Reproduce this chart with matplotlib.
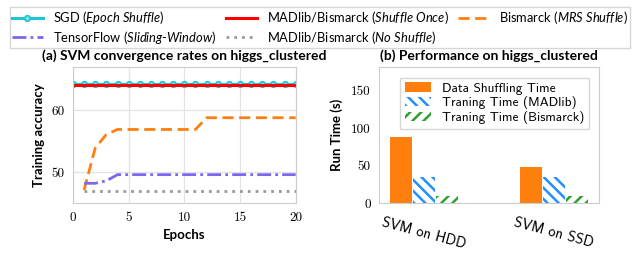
import matplotlib
matplotlib.use("Agg")
import matplotlib.pyplot as plt
import numpy as np

plt.rcParams['mathtext.fontset'] = 'custom'
plt.rcParams['mathtext.rm'] = 'Lato'
plt.rcParams['mathtext.it'] = 'Lato:italic'
plt.rcParams['font.family'] = 'Lato'
plt.rcParams['hatch.linewidth'] = 1.8

# ---- data: convergence (left panel)
epochs_full = list(range(0, 21))
epochs = list(range(1, 21))
sgd_epoch_shuffle = [64.3] * 21
madlib_shuffle_once = [64.1] * 21
bismarck_mrs = [47.1, 53.9, 56.1, 56.9, 56.9, 56.9, 56.9, 56.9, 56.9, 56.9,
                56.9, 58.8, 58.8, 58.8, 58.8, 58.8, 58.8, 58.8, 58.8, 58.8]
tensorflow_sw = [48.2, 48.2, 48.6, 49.6, 49.6, 49.6, 49.6, 49.6, 49.6, 49.6,
                 49.6, 49.6, 49.6, 49.6, 49.6, 49.6, 49.6, 49.6, 49.6, 49.6]
madlib_no_shuffle = [47.0] * 20

# ---- data: run time (right panel)
groups = ['SVM on HDD', 'SVM on SSD']
shuffle_time = [88, 48]
train_madlib = [35, 35]
train_bismarck = [10, 10]

fig = plt.figure(figsize=(6.4, 2.69), dpi=100)
ax1 = fig.add_axes([0.114, 0.245, 0.348, 0.506])
ax2 = fig.add_axes([0.592, 0.245, 0.344, 0.506])

grey = '#cccccc'

h_sgd, = ax1.plot(epochs_full, sgd_epoch_shuffle, color='#1fc3d6', lw=2.2,
                  marker='o', ms=4, mfc='#7fe0ea', mec='#1fc3d6', mew=1.2)
h_once, = ax1.plot(epochs_full, madlib_shuffle_once, color='#ff0000', lw=2.2)
h_mrs, = ax1.plot(epochs, bismarck_mrs, color='#ff7f0e', lw=2, ls=(0, (4, 2)))
h_tf, = ax1.plot(epochs, tensorflow_sw, color='#7b68ee', lw=2, ls=(0, (5, 1.5, 1, 1.5)))
h_no, = ax1.plot(epochs, madlib_no_shuffle, color='#999999', lw=2, ls=(0, (1, 1.8)))

ax1.set_xlim(0, 20)
ax1.set_ylim(45, 67)
ax1.set_xticks([0, 5, 10, 15, 20])
ax1.set_xticklabels(['0', '5', '10', '15', '20'], fontfamily='cmr10', fontsize=9.5)
ax1.set_yticks([50, 60])
ax1.set_yticklabels(['50', '60'], fontfamily='cmr10', fontsize=9.5)
ax1.grid(True, color='#e3e3e3', lw=0.9)
ax1.set_axisbelow(True)
for s in ax1.spines.values():
    s.set_color(grey)
ax1.tick_params(length=0, pad=6)
ax1.set_xlabel('Epochs', fontsize=9.5, fontweight='bold', labelpad=4)
ax1.set_ylabel('Training accuracy', fontsize=9.5, fontweight='bold', labelpad=5)
ax1.set_title('(a) SVM convergence rates on higgs_clustered', fontsize=10,
              fontweight='bold', pad=5)

x = np.arange(len(groups))
w = 0.17
ax2.bar(x - 0.178, shuffle_time, w, color='#ff7f0e', lw=0, label='Data Shuffling Time')
ax2.bar(x, train_madlib, w, color='white', edgecolor='#1e90ff', hatch='\\\\\\', lw=0,
        label='Traning Time (MADlib)')
ax2.bar(x + 0.178, train_bismarck, w, color='white', edgecolor='#2ca02c', hatch='///', lw=0,
        label='Traning Time (Bismarck)')
ax2.set_xlim(-0.35, 1.35)
ax2.set_ylim(0, 182)
ax2.set_yticks([0, 50, 100, 150])
ax2.set_yticklabels(['0', '50', '100', '150'], fontfamily='cmr10', fontsize=9.5)
ax2.set_xticks(x)
ax2.set_xticklabels(groups, fontfamily='cmss10', fontsize=10.5, rotation=-15, ha='center')
for s in ax2.spines.values():
    s.set_color(grey)
ax2.tick_params(length=0, pad=6)
ax2.tick_params(axis='x', pad=9)
ax2.set_ylabel('Run Time (s)', fontsize=9.5, fontweight='bold', labelpad=6)
ax2.set_title('(b) Performance on higgs_clustered', fontsize=10, fontweight='bold', pad=5)
leg2 = ax2.legend(loc='upper right', bbox_to_anchor=(0.985, 0.97), prop={'family': 'cmss10', 'size': 9.6},
                  frameon=True, fancybox=False, handlelength=2.0, handletextpad=0.8,
                  borderpad=0.35, labelspacing=0.12)
leg2.get_frame().set_edgecolor(grey)

labels = ['SGD ($Epoch\\ Shuffle$)',
          'TensorFlow ($Sliding$-$Window$)',
          'MADlib/Bismarck ($Shuffle\\ Once$)',
          'MADlib/Bismarck ($No\\ Shuffle$)',
          'Bismarck ($MRS\\ Shuffle$)']
leg = fig.legend([h_sgd, h_tf, h_once, h_no, h_mrs], labels, ncol=3,
                 loc='upper left', bbox_to_anchor=(0.005, 0.997, 0.99, 0.0), mode='expand',
                 fontsize=9.3, frameon=True, fancybox=False, handlelength=2.4,
                 columnspacing=0.6, handletextpad=0.8, borderpad=0.15, labelspacing=0.2)
leg.get_frame().set_edgecolor(grey)

fig.savefig('out.png', dpi=100)
